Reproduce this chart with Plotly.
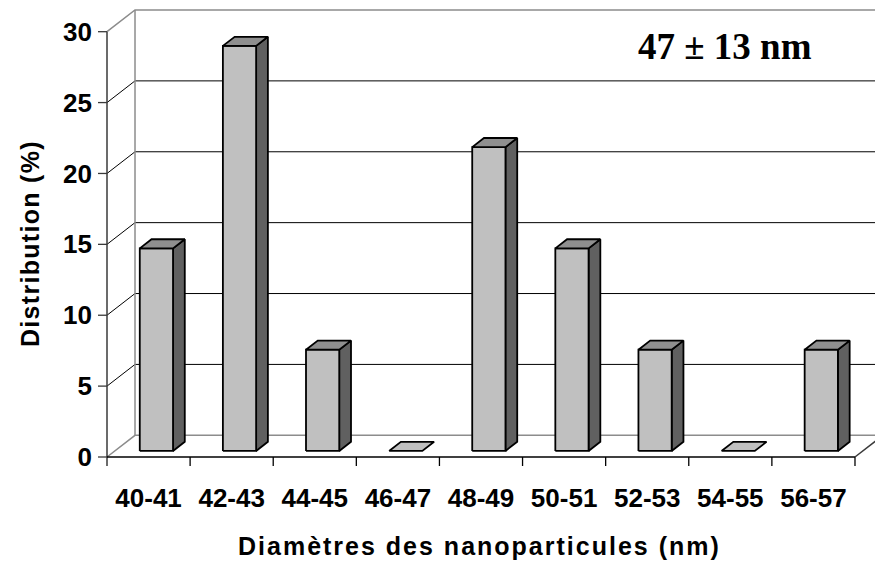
import plotly.graph_objects as go

# Size distribution of the nanoparticles (%), one column per 2 nm class
categories = ["40-41", "42-43", "44-45", "46-47", "48-49", "50-51", "52-53", "54-55", "56-57"]
distribution = [14.29, 28.57, 7.14, 0.0, 21.43, 14.29, 7.14, 0.0, 7.14]
y_ticks = [0, 5, 10, 15, 20, 25, 30]
mean_label = "47 ± 13 nm"
x_title = "Diamètres des nanoparticules (nm)"
y_title = "Distribution (%)"

# Oblique 3D projection: depth d in [0, 1] moves a point right and up
DEPTH_X = 0.337      # category units
DEPTH_Y = 1.53       # percent units
BAR_WIDTH = 0.4
BAR_D0, BAR_D1 = 0.28, 0.70
Y_MAX = 30
N = len(categories)

PX_PER_CAT = 83.11
PX_PER_PCT = 14.177

FRONT = "#C0C0C0"
SIDE = "#606060"
TOP = "#8F8F8F"
WALL = "#8C8C8C"
AXIS = "#3A3A3A"

SANS = "Liberation Sans, Arial, sans-serif"
SERIF = "Liberation Serif, Times New Roman, serif"


def proj(u, v, d):
    return u + d * DEPTH_X, v + d * DEPTH_Y


def spaced(text, px):
    return f'<span style="letter-spacing:{px}px">{text}</span>'


fig = go.Figure()


def add_path(points, color, width):
    xs, ys = zip(*[proj(*p) for p in points])
    fig.add_trace(go.Scatter(x=xs, y=ys, mode="lines",
                             line=dict(color=color, width=width),
                             hoverinfo="skip", showlegend=False))


def add_face(points, fill):
    xs, ys = zip(*[proj(*p) for p in points + [points[0]]])
    fig.add_trace(go.Scatter(x=xs, y=ys, mode="lines", fill="toself",
                             fillcolor=fill,
                             line=dict(color="black", width=1.8),
                             hoverinfo="skip", showlegend=False))


far = N + 1  # walls run off the right edge

# gridlines on the back wall and the left side wall
for v in y_ticks[1:-1]:
    add_path([(0, v, 0), (0, v, 1), (far, v, 1)], "black", 1)

# wall and floor edges
add_path([(0, Y_MAX, 0), (0, Y_MAX, 1), (far, Y_MAX, 1)], WALL, 1.5)
add_path([(0, 0, 0), (0, 0, 1), (far, 0, 1)], WALL, 1.5)
add_path([(0, 0, 1), (0, Y_MAX, 1)], WALL, 1.5)

# front value axis and its ticks
tick_u = 9 / PX_PER_CAT
tick_v = 9 / PX_PER_PCT
add_path([(0, -tick_v, 0), (0, Y_MAX, 0)], AXIS, 1.5)
for v in y_ticks:
    add_path([(-tick_u, v, 0), (0, v, 0)], AXIS, 1.3)

# front floor edge, category boundaries and right floor edge
add_path([(0, 0, 0), (N, 0, 0)], "black", 1.5)
for i in range(1, N + 1):
    add_path([(i, 0, 0), (i, -tick_v, 0)], "black", 1.3)
add_path([(N, 0, 0), (N, 0, 1)], AXIS, 1.5)

# 3D columns
for i, val in enumerate(distribution):
    u0 = i + 0.5 - BAR_WIDTH / 2
    u1 = u0 + BAR_WIDTH
    if val > 0:
        add_face([(u1, 0, BAR_D0), (u1, 0, BAR_D1), (u1, val, BAR_D1), (u1, val, BAR_D0)], SIDE)
        add_face([(u0, 0, BAR_D0), (u1, 0, BAR_D0), (u1, val, BAR_D0), (u0, val, BAR_D0)], FRONT)
        add_face([(u0, val, BAR_D0), (u1, val, BAR_D0), (u1, val, BAR_D1), (u0, val, BAR_D1)], TOP)
    else:
        add_face([(u0, val, BAR_D0), (u1, val, BAR_D0), (u1, val, BAR_D1), (u0, val, BAR_D1)], FRONT)

W, H = 875, 563
ML, MB = 95, 95
left_px, front_px = 107, 457
plot_w, plot_h = W - ML, H - MB
x_range = [-(left_px - ML) / PX_PER_CAT, (W - left_px) / PX_PER_CAT]
y_range = [-(plot_h - front_px) / PX_PER_PCT, front_px / PX_PER_PCT]


def paper_x(px):
    return (px - ML) / plot_w


def paper_y(py):
    return (plot_h - py) / plot_h


centered = dict(xref="paper", yref="paper", showarrow=False,
                xanchor="center", yanchor="middle")

fig.update_layout(
    width=W, height=H,
    margin=dict(l=ML, r=0, t=0, b=MB),
    paper_bgcolor="white", plot_bgcolor="white",
    xaxis=dict(range=x_range, showgrid=False, zeroline=False, showline=False,
               tickvals=[i + 0.5 for i in range(N)],
               ticktext=categories,
               ticks="", ticklabelstandoff=12,
               tickfont=dict(family=SANS, size=26, color="black", weight="bold"),
               fixedrange=True),
    yaxis=dict(range=y_range, showgrid=False, zeroline=False, showline=False,
               tickvals=y_ticks,
               ticktext=[str(t) for t in y_ticks],
               ticks="", ticklabelstandoff=2,
               tickfont=dict(family=SANS, size=26, color="black", weight="bold"),
               fixedrange=True),
    annotations=[
        dict(text=mean_label, x=paper_x(725), y=paper_y(47), **centered,
             font=dict(family=SERIF, size=37, color="black", weight="bold")),
        dict(text=spaced(x_title, 2.0), x=paper_x(479), y=paper_y(546), **centered,
             font=dict(family=SANS, size=25, color="black", weight="bold")),
        dict(text=spaced(y_title, 1.3), x=paper_x(30), y=paper_y(244), **centered,
             textangle=-90,
             font=dict(family=SANS, size=25, color="black", weight="bold")),
    ],
)

fig.write_html("out.html")
